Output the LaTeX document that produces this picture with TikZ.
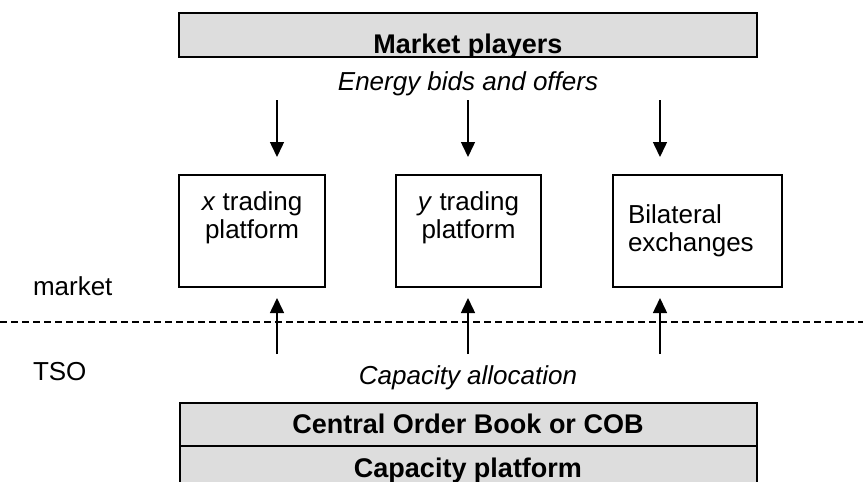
\documentclass[tikz,border=0pt]{standalone}
\usepackage{fontspec}
\setmainfont{Liberation Sans}
\usetikzlibrary{arrows.meta}
\definecolor{barfill}{HTML}{DDDDDD}
\begin{document}
\begin{tikzpicture}[x=1pt,y=-1pt,
  every node/.style={inner sep=0pt, outer sep=0pt, font=\fontsize{26}{28}\selectfont},
  bar/.style={draw, line width=2.5pt, fill=barfill, anchor=north west},
  boxframe/.style={draw, line width=2pt, anchor=north west},
  arr/.style={line width=1.5pt, -{Triangle[width=14pt,length=15pt]}},
  sepline/.style={line width=1.3pt, dash pattern=on 7pt off 4pt},
  boldtxt/.style={font=\fontsize{27}{29}\selectfont\bfseries, anchor=base},
  itxt/.style={font=\fontsize{26}{28}\selectfont\itshape, anchor=base},
  txt/.style={anchor=base}]
\useasboundingbox (0,0) rectangle (863,482);
\clip (0,0) rectangle (863,482);

% top bar
\node[bar, minimum width=578pt, minimum height=44pt] (topbar) at (179,13) {};
\begin{scope}
  \clip (180.5,14.5) rectangle (755.5,55.7);
  \node[boldtxt] (mp) at (468,53) {Market players};
\end{scope}
\node[itxt] (bids) at (468,90) {Energy bids and offers};

% platform boxes
\node[boxframe, minimum width=146pt, minimum height=112pt] (xbox) at (179,175) {};
\node[boxframe, minimum width=145pt, minimum height=112pt] (ybox) at (396,175) {};
\node[boxframe, minimum width=169pt, minimum height=112pt] (bbox) at (613,175) {};

\node[txt] (x1) at (252,210) {\textit{x} trading};
\node[txt] (x2) at (252,238) {platform};
\node[txt] (y1) at (468.5,210) {\textit{y} trading};
\node[txt] (y2) at (468.5,238) {platform};
\node[anchor=base west] (b1) at (628,223) {Bilateral};
\node[anchor=base west] (b2) at (628,251) {exchanges};

% down arrows
\coordinate (d1s) at (277,100); \coordinate (d1e) at (277,157);
\coordinate (d2s) at (468,100); \coordinate (d2e) at (468,157);
\coordinate (d3s) at (660,100); \coordinate (d3e) at (660,157);
\draw[arr] (d1s) -- (d1e);
\draw[arr] (d2s) -- (d2e);
\draw[arr] (d3s) -- (d3e);

% separator
\coordinate (sl) at (0,322); \coordinate (sr) at (863,322);
\draw[sepline] (sl) -- (sr);
\node[anchor=base west] (mkt) at (33,295) {market};
\node[anchor=base west] (tso) at (33,380) {TSO};

% up arrows
\coordinate (u1s) at (277,354); \coordinate (u1e) at (277,298);
\coordinate (u2s) at (468,354); \coordinate (u2e) at (468,298);
\coordinate (u3s) at (660,354); \coordinate (u3e) at (660,298);
\draw[arr] (u1s) -- (u1e);
\draw[arr] (u2s) -- (u2e);
\draw[arr] (u3s) -- (u3e);

\node[itxt] (cap) at (468,384) {Capacity allocation};

% bottom bars
\node[bar, minimum width=577pt, minimum height=43pt] (cob) at (180,403) {};
\node[boldtxt] (cobt) at (468,433) {Central Order Book or COB};
\node[bar, minimum width=577pt, minimum height=60pt] (capp) at (180,446) {};
\node[boldtxt] (capt) at (468,477) {Capacity platform};
\end{tikzpicture}
\end{document}
